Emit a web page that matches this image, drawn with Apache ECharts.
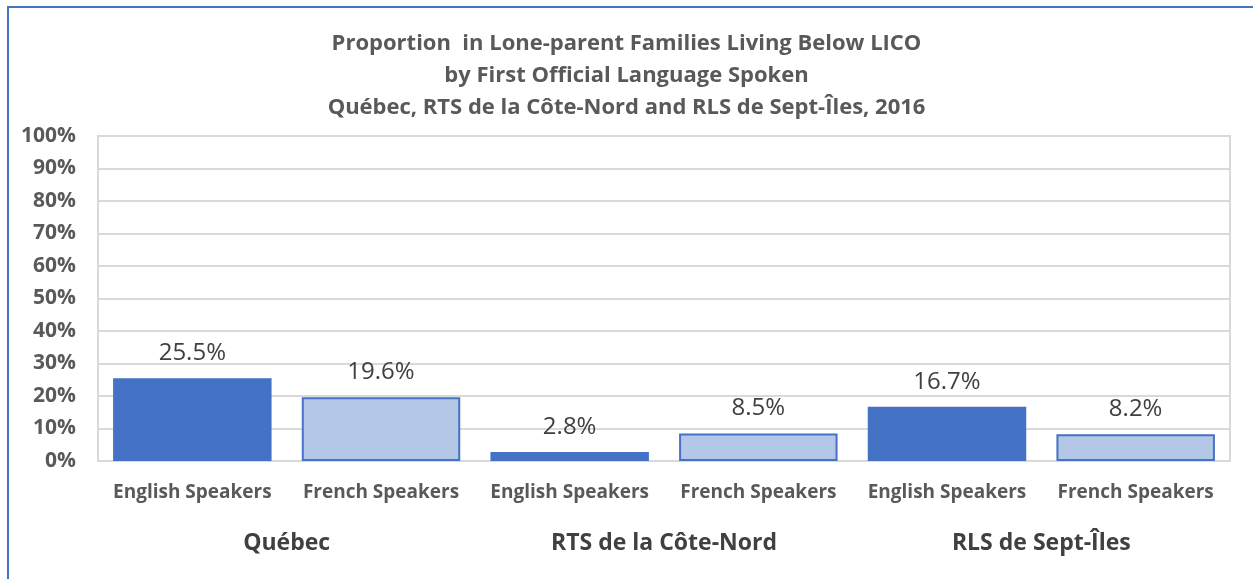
<!DOCTYPE html>
<html>
<head>
<meta charset="utf-8">
<script src="https://cdn.jsdelivr.net/npm/echarts@6/dist/echarts.min.js"></script>
<style>
  html, body { margin: 0; padding: 0; background: #fff; }
  #chart { width: 1253px; height: 579px; }
</style>
</head>
<body>
<div id="chart"></div>
<script>
// data
const categories = ['English Speakers', 'French Speakers', 'English Speakers', 'French Speakers', 'English Speakers', 'French Speakers'];
const groups = ['Québec', 'RTS de la Côte-Nord', 'RLS de Sept-Îles'];
const values = [25.5, 19.6, 2.8, 8.5, 16.7, 8.2];
const barColors = ['#4472C4', '#B4C7E7', '#4472C4', '#B4C7E7', '#4472C4', '#B4C7E7'];
const yTicks = [0, 10, 20, 30, 40, 50, 60, 70, 80, 90, 100];

const FONT = '"Open Sans", "Noto Sans", sans-serif';

let myChart = echarts.init(document.getElementById('chart'));

let option = {
    textStyle: { fontFamily: FONT },
    title: {
        text: 'Proportion  in Lone-parent Families Living Below LICO\nby First Official Language Spoken\nQuébec, RTS de la Côte-Nord and RLS de Sept-Îles, 2016',
        left: 'center',
        top: 23,
        textStyle: {
            fontFamily: FONT,
            fontSize: 22,
            fontWeight: 'bold',
            color: '#595959',
            lineHeight: 32
        }
    },
    graphic: [
        {
            // outer chart border (only top and left visible)
            type: 'polyline',
            shape: { points: [[8, 600], [8, 7], [1260, 7]] },
            style: { stroke: '#4472C4', lineWidth: 2, fill: null },
            silent: true
        }
    ],
    grid: {
        left: 98,
        right: 23,
        top: 136,
        bottom: 118,
        show: true,
        borderColor: '#D9D9D9',
        borderWidth: 2,
        containLabel: false
    },
    xAxis: [
        {
            type: 'category',
            data: categories,
            axisLine: { show: true, lineStyle: { color: '#D9D9D9', width: 2 } },
            axisTick: { show: false },
            axisLabel: {
                interval: 0,
                margin: 22,
                fontSize: 19,
                fontWeight: 'bold',
                color: '#595959',
                fontFamily: FONT
            }
        },
        {
            type: 'category',
            data: groups,
            position: 'bottom',
            offset: 0,
            axisLine: { show: false },
            axisTick: { show: false },
            axisLabel: {
                interval: 0,
                margin: 71,
                fontSize: 23,
                fontWeight: 'bold',
                color: '#404040',
                fontFamily: FONT
            }
        }
    ],
    yAxis: {
        type: 'value',
        min: yTicks[0],
        max: yTicks[yTicks.length - 1],
        interval: 10,
        axisLine: { show: false },
        axisTick: { show: false },
        splitLine: { show: true, lineStyle: { color: '#D9D9D9', width: 2 } },
        axisLabel: {
            margin: 22,
            fontSize: 21,
            fontWeight: 'bold',
            color: '#595959',
            fontFamily: FONT,
            formatter: v => v + '%'
        }
    },
    series: [
        {
            type: 'bar',
            xAxisIndex: 0,
            barWidth: '84%',
            data: values.map((v, i) => ({
                value: v,
                itemStyle: { color: barColors[i], borderColor: '#4472C4', borderWidth: 2 }
            })),
            label: {
                show: true,
                position: 'top',
                distance: 13,
                fontSize: 24,
                color: '#404040',
                fontFamily: FONT,
                formatter: p => p.value.toFixed(1) + '%'
            },
            animation: false
        }
    ]
};

myChart.setOption(option, true);
window.addEventListener('resize', () => {
    myChart.resize();
});
</script>
</body>
</html>
